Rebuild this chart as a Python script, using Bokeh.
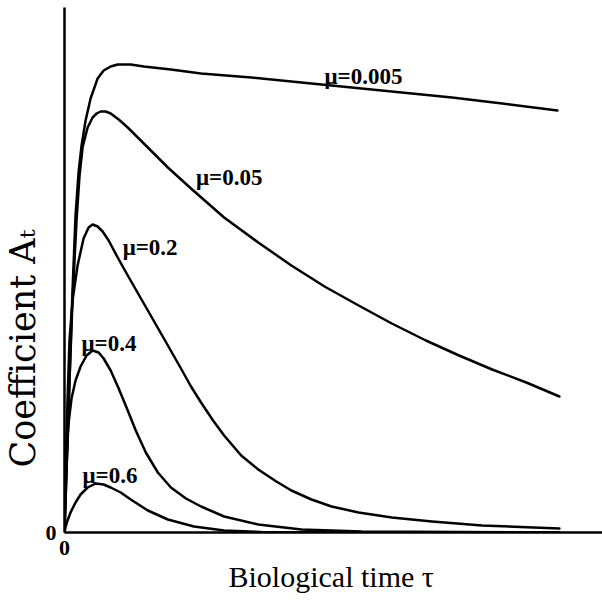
from bokeh.plotting import figure
from bokeh.models import Range1d, FixedTicker, Label, Title
from bokeh.embed import file_html
from bokeh.resources import INLINE

# ---- data (tau: biological time, A: coefficient) ----
mu_values = [0.005, 0.05, 0.2, 0.4, 0.6]

tau_005 = [0, 0.041, 0.101, 0.162, 0.223, 0.284, 0.345, 0.426, 0.527, 0.669,
           0.791, 0.933, 1.075, 1.339, 1.602, 2.150, 2.759, 3.773, 4.787, 5.801,
           6.815, 7.830, 8.844, 9.959]
A_005 = [0, 0.124, 0.304, 0.484, 0.634, 0.720, 0.774, 0.824, 0.868, 0.908,
         0.924, 0.932, 0.936, 0.936, 0.932, 0.926, 0.918, 0.910, 0.900, 0.890,
         0.880, 0.870, 0.858, 0.844]

tau_05 = [0, 0.041, 0.101, 0.162, 0.243, 0.304, 0.365, 0.467, 0.568, 0.649,
          0.730, 0.832, 0.933, 1.095, 1.278, 1.684, 2.089, 2.556, 3.225, 3.915,
          4.584, 5.254, 5.943, 6.613, 7.302, 7.972, 8.641, 9.331, 10.0]
A_05 = [0, 0.124, 0.304, 0.464, 0.624, 0.714, 0.770, 0.810, 0.830, 0.838,
        0.842, 0.842, 0.838, 0.826, 0.810, 0.770, 0.730, 0.688, 0.630, 0.580,
        0.534, 0.492, 0.454, 0.418, 0.384, 0.354, 0.326, 0.300, 0.272]

tau_2 = [0, 0.020, 0.061, 0.101, 0.162, 0.264, 0.385, 0.487, 0.568, 0.669,
         0.771, 0.892, 1.075, 1.278, 1.684, 2.089, 2.353, 2.556, 2.759, 3.002,
         3.225, 3.570, 3.915, 4.280, 4.584, 4.990, 5.396, 5.943, 6.613, 7.424,
         8.438, 10.0]
A_2 = [0, 0.124, 0.264, 0.384, 0.464, 0.534, 0.588, 0.610, 0.616, 0.612,
       0.602, 0.584, 0.550, 0.514, 0.444, 0.374, 0.328, 0.292, 0.260, 0.224,
       0.194, 0.154, 0.126, 0.102, 0.084, 0.066, 0.052, 0.040, 0.030, 0.022,
       0.014, 0.008]

tau_4 = [0, 0.020, 0.041, 0.081, 0.142, 0.223, 0.325, 0.446, 0.568, 0.690,
         0.791, 0.933, 1.095, 1.278, 1.440, 1.643, 1.886, 2.150, 2.454, 2.759,
         3.225, 3.915, 4.787, 6.004, 10.0]
A_4 = [0, 0.084, 0.144, 0.218, 0.268, 0.304, 0.332, 0.354, 0.364, 0.360,
       0.348, 0.324, 0.288, 0.244, 0.204, 0.160, 0.120, 0.090, 0.068, 0.052,
       0.032, 0.016, 0.006, 0.002, 0.0]

tau_6 = [0, 0.020, 0.061, 0.122, 0.223, 0.325, 0.467, 0.629, 0.791, 0.933,
         1.136, 1.339, 1.684, 2.089, 2.617, 3.225, 3.976, 10.0]
A_6 = [0, 0.010, 0.024, 0.040, 0.060, 0.076, 0.090, 0.098, 0.096, 0.090,
       0.080, 0.066, 0.044, 0.026, 0.012, 0.004, 0.001, 0.0]

series = [(tau_005, A_005), (tau_05, A_05), (tau_2, A_2), (tau_4, A_4), (tau_6, A_6)]
# label anchor (tau, A) for each curve label
label_pos = [(5.254, 0.912), (2.657, 0.710), (1.176, 0.570), (0.345, 0.378), (0.365, 0.114)]

x_title = "Biological time τ"
y_title = "Coefficient Aₜ"

W, H = 602, 603
p = figure(width=W, height=H, output_backend="svg", toolbar_location=None,
           x_range=Range1d(0, 10.87), y_range=Range1d(0, 1.05),
           min_border_left=64, min_border_right=0, min_border_top=7,
           min_border_bottom=71)
p.outline_line_color = None
p.xgrid.visible = False
p.ygrid.visible = False
p.background_fill_color = "white"
p.border_fill_color = "white"

for ax in (p.xaxis[0], p.yaxis[0]):
    ax.ticker = FixedTicker(ticks=[0])
    ax.axis_line_width = 2.5
    ax.axis_line_color = "black"
    ax.major_tick_line_color = None
    ax.minor_tick_line_color = None
    ax.major_tick_out = 0
    ax.major_tick_in = 0
    ax.major_label_text_font = "Liberation Serif"
    ax.major_label_text_font_style = "bold"
    ax.major_label_text_font_size = "22px"
    ax.major_label_text_color = "black"
p.yaxis[0].major_label_standoff = 8
p.xaxis[0].major_label_standoff = 8

for (t, a) in series:
    p.line(t, a, line_color="black", line_width=2.5, line_join="round", line_cap="round")

for m, (lx, ly) in zip(mu_values, label_pos):
    p.add_layout(Label(x=lx, y=ly, text=f"μ={m}", text_font="Liberation Serif",
                       text_font_style="bold", text_font_size="23px",
                       text_color="black", text_baseline="alphabetic"))

# axis titles as side-panel titles
p.add_layout(Title(text=x_title, align="left", offset=164, standoff=0,
                   text_font="Liberation Serif", text_font_style="normal",
                   text_font_size="30px", text_color="black"), "below")
p.add_layout(Title(text=y_title, align="left", offset=65, standoff=0,
                   text_font="DejaVu Serif", text_font_style="normal",
                   text_font_size="35px", text_color="black"), "left")

open("out.html", "w").write(file_html(p, INLINE))
